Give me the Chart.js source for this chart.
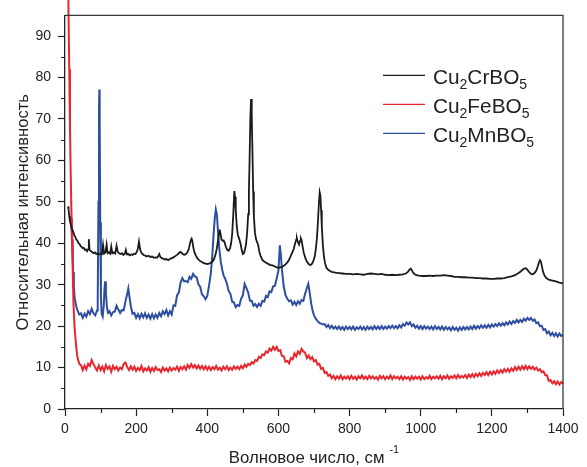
<!DOCTYPE html>
<html>
<head>
<meta charset="utf-8">
<script src="https://cdn.jsdelivr.net/npm/chart.js@4.4.1/dist/chart.umd.min.js"></script>
<style>
  html, body { margin: 0; padding: 0; background: #fff; }
  #wrap { width: 587px; height: 467px; }
</style>
</head>
<body>
<div id="wrap"><canvas id="raman" width="587" height="467"></canvas></div>
<script>
// Raman spectra Cu2MBO5
const seriesLabels = ['Cu2CrBO5', 'Cu2FeBO5', 'Cu2MnBO5'];
const seriesColors = ['#1b1b1b', '#e8262d', '#2e4fa0'];

const xTickValues = [0, 200, 400, 600, 800, 1000, 1200, 1400];
const yTickValues = [0, 10, 20, 30, 40, 50, 60, 70, 80, 90];
const xMinorTicks = [100, 300, 500, 700, 900, 1100, 1300];
const yMinorTicks = [5, 15, 25, 35, 45, 55, 65, 75, 85];

// [wavenumber, intensity]
const crSpectrum = [
  [8.5,48.9],[10,48.2],[12,46.5],[14,45.3],[16,44.6],[18,44.0],[20,43.4],[23,42.8],[26,42.0],[29,41.5],
  [32,40.9],[35,40.6],[38,40.0],[41,39.8],[44,39.3],[47,39.1],[50,38.8],[53,38.9],[56,38.4],[59,38.5],
  [62,38.1],[65,38.6],[67,41.0],[69,38.4],[72,38.1],[76,37.9],[80,37.6],[84,37.8],[88,37.4],[92,37.6],
  [96,37.3],[100,37.5],[104,37.4],[107,39.6],[110,37.5],[114,37.8],[117,39.7],[120,37.6],[124,37.8],[127,37.5],
  [130,39.2],[133,37.6],[137,37.8],[141,37.5],[145,39.4],[148,38.0],[152,37.6],[156,37.4],[160,37.6],[164,37.2],
  [168,37.5],[171,38.4],[174,37.3],[178,37.4],[182,37.1],[186,37.3],[190,37.2],[194,37.5],[198,37.4],[202,37.9],
  [205,38.8],[208,40.4],[211,38.6],[214,37.8],[218,37.4],[222,37.1],[226,37.0],[230,36.8],[235,37.0],[240,36.7],
  [245,36.8],[250,36.5],[255,36.6],[259,36.5],[262,36.9],[265,37.4],[268,36.7],[272,36.4],[276,36.3],[280,36.1],
  [285,36.2],[290,35.9],[295,36.2],[300,36.4],[305,36.6],[310,36.9],[315,37.2],[320,37.6],[324,37.9],[328,37.7],
  [332,37.3],[336,37.2],[340,37.4],[344,37.8],[348,38.6],[351,39.8],[354,40.8],[356,41.1],[358,40.5],[361,38.9],
  [364,37.8],[368,37.0],[372,36.4],[376,36.0],[380,35.7],[385,35.5],[390,35.2],[395,35.1],[400,35.0],[405,35.1],
  [410,35.3],[415,35.6],[419,36.2],[423,37.2],[427,38.8],[430,40.6],[433,42.6],[435,43.3],[437,42.4],[440,40.9],
  [443,40.6],[446,40.7],[449,40.1],[452,39.2],[456,38.4],[460,38.2],[464,38.8],[467,40.0],[470,42.3],[473,46.8],
  [476,52.6],[478,51.2],[480,48.0],[483,44.0],[486,42.0],[490,41.0],[494,39.7],[497,38.3],[500,37.4],[503,37.6],
  [506,38.5],[509,39.8],[512,42.5],[515,47.0],[517,52.5],[519,60.5],[521,70.0],[523,74.8],[525,71.0],[527,62.0],
  [529,52.5],[531,46.5],[534,42.5],[537,41.0],[540,40.3],[543,39.6],[546,38.1],[550,36.9],[555,36.0],[560,35.6],
  [565,35.3],[570,35.1],[575,34.8],[580,34.7],[585,34.6],[590,34.4],[595,34.2],[600,34.1],[605,34.2],[610,34.3],
  [615,34.6],[620,34.9],[625,35.4],[630,36.0],[635,37.0],[639,37.8],[643,38.6],[647,40.0],[650,40.9],[652,41.2],
  [655,40.2],[658,39.7],[661,40.6],[663,41.2],[665,40.8],[668,39.2],[671,37.8],[675,36.6],[680,35.6],[685,35.0],
  [690,34.7],[694,35.0],[698,35.7],[702,36.8],[705,38.5],[708,41.0],[711,45.0],[714,50.0],[716,52.3],[718,51.5],
  [720,48.0],[722,44.0],[725,39.5],[728,36.8],[731,35.2],[735,34.1],[740,33.6],[745,33.3],[750,33.1],[760,32.9],
  [770,32.8],[780,32.7],[790,32.6],[800,32.6],[810,32.5],[820,32.6],[830,32.5],[840,32.4],[850,32.6],[860,32.7],
  [870,32.6],[880,32.5],[890,32.6],[900,32.4],[910,32.3],[920,32.4],[930,32.3],[940,32.4],[950,32.5],[958,32.7],
  [964,33.1],[968,33.6],[972,33.9],[975,33.5],[978,33.0],[982,32.6],[988,32.3],[995,32.2],[1005,32.1],[1015,32.1],
  [1025,32.2],[1035,32.1],[1045,32.2],[1055,32.2],[1065,32.3],[1075,32.2],[1085,32.1],[1095,31.9],[1105,31.9],[1115,31.8],
  [1125,31.8],[1135,31.7],[1145,31.7],[1155,31.6],[1165,31.6],[1175,31.5],[1185,31.5],[1195,31.4],[1205,31.4],[1215,31.5],
  [1225,31.5],[1235,31.6],[1245,31.8],[1255,32.0],[1265,32.3],[1273,32.7],[1280,33.1],[1286,33.6],[1291,33.9],[1296,34.0],
  [1300,33.6],[1305,33.0],[1310,32.6],[1315,32.5],[1320,32.8],[1325,33.4],[1329,34.4],[1332,35.3],[1335,35.9],[1338,35.5],
  [1341,34.3],[1344,33.1],[1348,32.2],[1353,31.6],[1360,31.2],[1370,31.0],[1380,30.8],[1390,30.5],[1400,30.3]
];

const feSpectrum = [
  [8,110],[10,95],[12,82],[14,68],[16,57],[18,48],[20,41],[22,32],[24,25],[27,19.5],[31,15.5],[34,13],[37,11.8],[41,10.8],
  [45,10.6],[50,9.4],[55,10.5],[60,9.6],[65,10.9],[70,10.4],[75,11.8],[80,10.9],[85,10.0],[90,9.3],
  [95,10.5],[100,9.4],[105,10.2],[110,9.1],[115,10.6],[120,9.7],[125,10.3],[130,9.0],[135,10.4],[140,9.6],
  [145,10.2],[150,9.3],[155,10.0],[160,9.6],[165,10.9],[170,11.2],[175,10.1],[180,9.4],[185,10.3],[190,9.5],
  [195,10.2],[200,9.2],[205,9.9],[210,9.4],[215,10.4],[220,9.1],[225,9.8],[230,9.3],[235,10.1],[240,9.0],
  [245,9.9],[250,9.2],[255,10.1],[260,9.4],[265,9.6],[270,8.9],[275,10.0],[280,9.3],[285,9.8],[290,9.1],
  [295,10.0],[300,9.3],[305,9.9],[310,9.5],[315,10.2],[320,9.2],[325,10.1],[330,9.6],[335,10.3],[340,9.5],
  [345,10.6],[350,9.9],[355,10.8],[360,10.0],[365,10.6],[370,9.8],[375,10.5],[380,9.7],[385,10.4],[390,9.6],
  [395,10.3],[400,9.5],[405,10.2],[410,9.4],[415,10.1],[420,9.6],[425,10.4],[430,9.5],[435,10.0],[440,9.3],
  [445,10.2],[450,9.6],[455,10.3],[460,9.4],[465,10.0],[470,9.5],[475,10.3],[480,9.7],[485,10.2],[490,9.6],
  [495,10.4],[500,9.8],[505,10.7],[510,10.2],[515,10.9],[520,10.6],[525,11.3],[530,11.0],[535,11.8],[540,11.6],
  [545,12.6],[550,12.3],[555,13.2],[560,13.0],[565,13.9],[570,13.6],[575,14.6],[580,14.1],[585,15.0],[590,14.3],
  [595,15.0],[600,14.0],[605,14.2],[610,12.8],[615,12.7],[620,11.4],[625,11.6],[630,11.0],[635,12.3],[640,12.0],
  [645,13.4],[650,12.7],[655,13.9],[660,13.3],[665,14.5],[670,13.9],[675,13.6],[680,12.3],[685,12.9],[690,12.0],
  [695,12.5],[700,11.5],[705,11.8],[710,10.7],[715,10.9],[720,9.7],[725,9.9],[730,8.7],[735,8.9],[740,8.0],
  [745,8.3],[750,7.4],[755,8.0],[760,7.2],[765,7.9],[770,7.3],[775,8.1],[780,7.2],[785,7.8],[790,7.3],
  [795,7.9],[800,7.2],[805,8.0],[810,7.3],[815,7.8],[820,7.1],[825,7.9],[830,7.4],[835,8.1],[840,7.3],
  [845,7.8],[850,7.2],[855,8.0],[860,7.4],[865,7.9],[870,7.3],[875,7.7],[880,7.1],[885,8.0],[890,7.4],
  [895,7.9],[900,7.2],[905,7.8],[910,7.3],[915,8.1],[920,7.2],[925,7.9],[930,7.4],[935,7.8],[940,7.2],
  [945,7.9],[950,7.1],[955,7.8],[960,7.3],[965,7.7],[970,7.0],[975,7.9],[980,7.2],[985,7.8],[990,7.3],
  [995,7.8],[1000,7.1],[1005,7.9],[1010,7.2],[1015,7.7],[1020,7.3],[1025,8.0],[1030,7.2],[1035,7.8],[1040,7.4],
  [1045,7.9],[1050,7.3],[1055,8.0],[1060,7.2],[1065,7.9],[1070,7.4],[1075,8.1],[1080,7.3],[1085,7.9],[1090,7.5],
  [1095,8.1],[1100,7.4],[1105,8.2],[1110,7.5],[1115,8.0],[1120,7.6],[1125,8.2],[1130,7.5],[1135,8.3],[1140,7.7],
  [1145,8.4],[1150,7.7],[1155,8.5],[1160,7.9],[1165,8.6],[1170,8.0],[1175,8.7],[1180,8.2],[1185,8.9],[1190,8.2],
  [1195,9.0],[1200,8.3],[1205,9.1],[1210,8.5],[1215,9.3],[1220,8.7],[1225,9.4],[1230,8.8],[1235,9.6],[1240,9.0],
  [1245,9.7],[1250,9.0],[1255,9.8],[1260,9.2],[1265,10.1],[1270,9.4],[1275,10.2],[1280,9.5],[1285,10.3],[1290,9.6],
  [1295,10.4],[1300,9.6],[1305,10.3],[1310,9.7],[1315,10.2],[1320,9.5],[1325,10.0],[1330,9.3],[1335,9.6],[1340,8.9],
  [1345,9.1],[1350,8.2],[1355,8.1],[1360,6.8],[1365,7.0],[1370,6.2],[1375,6.7],[1380,6.0],[1385,6.6],[1390,5.9],
  [1395,6.5],[1400,6.1]
];

const mnSpectrum = [
  [17,46],[19,42],[21,38],[23,33],[25,29.5],[27,27],[30,25.5],[33,24.3],[36,23.6],[40,22.8],
  [45,23.1],[50,22.0],[55,23.0],[60,22.3],[65,23.6],[70,22.9],[75,24.2],[80,23.1],[85,22.6],[90,23.8],
  [92,26],[94,50],[95.5,72],[96.5,77.1],[97.5,70],[99,45],[101,27],[103,23],
  [106,22.3],[109,25],[111,29],[113,30.8],[115,28],[118,24.5],[121,23.2],
  [125,23.6],[130,22.6],[135,23.4],[140,23.5],[145,24.9],[150,24.0],[155,23.2],[160,23.9],[165,23.8],[170,26.0],
  [175,27.8],[178,29.1],[181,27.2],[185,24.8],[190,23.0],
  [195,23.2],[200,22.0],[205,22.9],[210,21.9],[215,23.0],[220,22.1],[225,23.1],[230,22.0],[235,22.8],[240,21.8],
  [245,22.9],[250,21.9],[255,22.8],[260,22.0],[265,23.2],[270,22.4],[275,23.6],[280,22.9],[285,23.9],[290,22.6],
  [295,23.6],[300,22.8],[305,25.0],[310,24.9],[315,27.4],[320,28.1],[325,30.5],[330,31.6],[335,30.8],[340,30.9],
  [345,30.6],[350,31.9],[355,31.4],[360,32.6],[365,32.0],[370,31.8],[375,30.1],[380,29.5],[385,27.7],[390,27.2],
  [395,26.5],[400,27.3],[405,29.8],[410,32.8],[414,37],[418,42.5],[421,46],[424,48.2],[427,47],[430,43],
  [434,38.5],[438,35.5],[442,33.6],[446,32.2],[450,31.5],
  [455,30.3],[460,28.5],[465,27.8],[470,25.9],[475,25.7],[480,24.6],[485,25.1],[490,24.9],[495,26.6],[500,27.4],
  [505,30.2],[510,29.2],[515,28.1],[520,26.1],[525,26.1],[530,24.9],[535,25.3],[540,24.6],[545,25.4],[550,24.9],
  [555,26.1],[560,25.9],[565,27.3],[570,27.0],[575,28.4],[580,28.2],[585,29.6],[590,29.7],[595,31.5],[600,33.4],
  [604,39.5],[607,37],[610,33.5],[615,29.5],[620,27.5],[625,26.6],[630,26],
  [635,26.2],[640,25.2],[645,25.9],[650,25.1],[655,26.0],[660,25.4],[665,26.3],[670,26.1],[675,27.8],[680,29.2],
  [684,30.2],[688,28],[692,25.5],[696,23.8],[700,22.6],[705,21.8],[710,21.2],[715,20.8],[720,20.6],[725,20.4],
  [730,20.5],[735,19.8],[740,20.3],[745,19.5],[750,20.1],[755,19.4],[760,19.9],[765,19.3],[770,19.9],[775,19.2],
  [780,19.8],[785,19.1],[790,19.9],[795,19.3],[800,19.8],[805,19.2],[810,19.9],[815,19.1],[820,19.7],[825,19.3],
  [830,19.9],[835,19.2],[840,19.8],[845,19.1],[850,19.9],[855,19.3],[860,19.8],[865,19.2],[870,20.0],[875,19.3],
  [880,19.9],[885,19.3],[890,20.0],[895,19.3],[900,19.9],[905,19.4],[910,20.0],[915,19.5],[920,20.1],[925,19.5],
  [930,20.0],[935,19.5],[940,20.2],[945,19.7],[950,20.5],[955,20.1],[960,20.9],[965,20.4],[970,20.9],[975,20.0],
  [980,20.4],[985,19.6],[990,20.1],[995,19.4],[1000,20.0],[1005,19.3],[1010,20.0],[1015,19.4],[1020,19.9],[1025,19.3],
  [1030,19.9],[1035,19.2],[1040,20.0],[1045,19.3],[1050,19.8],[1055,19.2],[1060,19.9],[1065,19.1],[1070,19.8],[1075,19.2],
  [1080,19.7],[1085,19.0],[1090,19.8],[1095,19.1],[1100,19.6],[1105,18.9],[1110,19.7],[1115,19.1],[1120,19.8],[1125,19.2],
  [1130,19.8],[1135,19.2],[1140,19.9],[1145,19.3],[1150,20.1],[1155,19.4],[1160,20.0],[1165,19.5],[1170,20.2],[1175,19.6],
  [1180,20.2],[1185,19.6],[1190,20.3],[1195,19.7],[1200,20.4],[1205,19.9],[1210,20.5],[1215,20.0],[1220,20.7],[1225,20.1],
  [1230,20.7],[1235,20.2],[1240,20.9],[1245,20.4],[1250,21.1],[1255,20.5],[1260,21.2],[1265,20.8],[1270,21.5],[1275,20.9],
  [1280,21.5],[1285,21.0],[1290,21.8],[1295,21.3],[1300,22.0],[1305,21.5],[1310,22.0],[1315,21.3],[1320,21.6],[1325,20.7],
  [1330,20.9],[1335,20.0],[1340,20.1],[1345,19.1],[1350,19.3],[1355,18.3],[1360,18.7],[1365,17.8],[1370,18.4],[1375,17.6],
  [1380,18.3],[1385,17.5],[1390,18.2],[1395,17.6],[1400,18.0]
];

const FONT = "'Liberation Sans', Arial, Helvetica, sans-serif";
const INK = '#222';

// text with digits drawn as subscript (formula labels)
function drawFormula(ctx, text, x, y, size) {
  const parts = text.match(/\d+|\D+/g);
  let cx = x;
  parts.forEach(p => {
    const isSub = /^\d+$/.test(p);
    ctx.font = (isSub ? Math.round(size * 0.68) : size) + 'px ' + FONT;
    ctx.fillText(p, cx, isSub ? y + size * 0.24 : y);
    cx += ctx.measureText(p).width;
  });
}

const decorPlugin = {
  id: 'decor',
  afterDraw(chart) {
    const { ctx, chartArea: a, scales: { x, y } } = chart;
    ctx.save();
    // frame top and right
    ctx.strokeStyle = '#3a3a3a';
    ctx.lineWidth = 1.3;
    ctx.beginPath();
    ctx.moveTo(a.left, a.top);
    ctx.lineTo(a.right, a.top);
    ctx.lineTo(a.right, a.bottom);
    ctx.stroke();

    // minor ticks
    ctx.strokeStyle = INK;
    ctx.lineWidth = 1.2;
    ctx.beginPath();
    xMinorTicks.forEach(v => {
      const px = Math.round(x.getPixelForValue(v)) + 0.5;
      ctx.moveTo(px, a.bottom);
      ctx.lineTo(px, a.bottom + 4);
    });
    yMinorTicks.forEach(v => {
      const py = Math.round(y.getPixelForValue(v)) + 0.5;
      ctx.moveTo(a.left, py);
      ctx.lineTo(a.left - 4, py);
    });
    ctx.stroke();

    // x axis title with superscript
    ctx.fillStyle = INK;
    ctx.textBaseline = 'alphabetic';
    ctx.textAlign = 'left';
    const main = 'Волновое число, см';
    const sup = '-1';
    ctx.font = '16.8px ' + FONT;
    const wMain = ctx.measureText(main).width;
    ctx.font = '11px ' + FONT;
    const wSup = ctx.measureText(sup).width;
    const total = wMain + 5 + wSup;
    const tx = (a.left + a.right) / 2 - total / 2;
    ctx.font = '16.8px ' + FONT;
    ctx.fillText(main, tx, 463);
    ctx.font = '11px ' + FONT;
    ctx.fillText(sup, tx + wMain + 5, 453);

    // legend
    chart.data.datasets.forEach((ds, i) => {
      const rowY = a.top + 60 + i * 29;
      ctx.strokeStyle = ds.borderColor;
      ctx.lineWidth = 1.2;
      ctx.beginPath();
      ctx.moveTo(a.left + 318, rowY);
      ctx.lineTo(a.left + 360, rowY);
      ctx.stroke();
      ctx.fillStyle = INK;
      drawFormula(ctx, ds.label, a.left + 368, rowY + 9, 20.8);
    });
    ctx.restore();
  }
};

const datasets = [crSpectrum, feSpectrum, mnSpectrum].map((s, i) => ({
  label: seriesLabels[i],
  data: s.map(p => ({ x: p[0], y: p[1] })),
  borderColor: seriesColors[i],
  borderWidth: i === 0 ? 1.8 : 2,
  pointRadius: 0,
  tension: 0,
  clip: i === 1 ? false : undefined
}));

new Chart(document.getElementById('raman'), {
  type: 'line',
  data: { datasets },
  options: {
    responsive: false,
    animation: false,
    layout: { padding: { top: 8, right: 24, left: 0, bottom: 0 } },
    plugins: { legend: { display: false }, tooltip: { enabled: false } },
    scales: {
      x: {
        type: 'linear',
        min: 0,
        max: 1400,
        afterBuildTicks: s => { s.ticks = xTickValues.map(v => ({ value: v })); },
        afterFit: s => { s.height = 58; },
        grid: { drawOnChartArea: false, tickLength: 7, tickColor: INK, tickWidth: 1.2 },
        border: { color: INK, width: 1.3 },
        ticks: { color: INK, font: { family: FONT, size: 14 }, padding: 5, maxRotation: 0, callback: v => String(v) }
      },
      y: {
        min: 0,
        max: 95,
        afterBuildTicks: s => { s.ticks = yTickValues.map(v => ({ value: v })); },
        afterFit: s => { s.width = 65; },
        grid: { drawOnChartArea: false, tickLength: 7, tickColor: INK, tickWidth: 1.2 },
        border: { color: INK, width: 1.3 },
        ticks: { color: INK, font: { family: FONT, size: 14 }, padding: 7, callback: v => String(v) },
        title: {
          display: true,
          text: 'Относительная интенсивность',
          color: INK,
          font: { family: FONT, size: 16.6 },
          padding: { top: 13, bottom: 0 }
        }
      }
    }
  },
  plugins: [decorPlugin]
});
</script>
</body>
</html>
